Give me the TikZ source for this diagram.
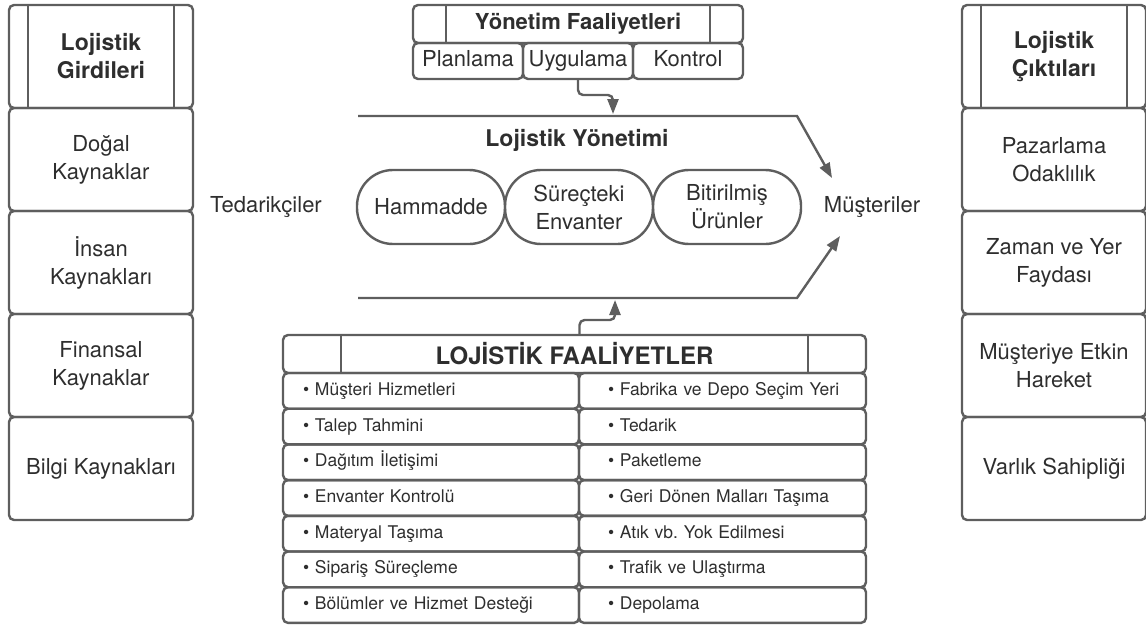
\documentclass[tikz,border=0pt]{standalone}
\usepackage{fontspec}
\setmainfont{TeX Gyre Heros}
\frenchspacing
\usetikzlibrary{positioning}
\usetikzlibrary{arrows.meta}
\definecolor{LineGray}{HTML}{5E5E5E}
\definecolor{TextDark}{HTML}{2E2E2E}
\newcommand{\colw}{184pt}
\newcommand{\rowh}{103pt}
\newcommand{\hdrinset}{19pt}
\newcommand{\itemh}{35.7pt}
\newcommand{\bigtext}{\fontsize{22}{28}\selectfont}
\newcommand{\smalltext}{\fontsize{17.5}{21}\selectfont}
\newcommand{\headtext}{\fontsize{23}{28}\selectfont\bfseries}

\begin{document}
\begin{tikzpicture}[x=1pt,y=-1pt,
    box/.style={draw=LineGray,line width=2.4pt,rounded corners=5pt,
      outer sep=0pt,inner sep=0pt,align=center,text=TextDark,font=\bigtext},
    colbox/.style={box,minimum width=\colw,minimum height=\rowh},
    subbox/.style={box,minimum width=110pt,minimum height=36pt,text height=16pt,text depth=5pt},
    pill/.style={box,rounded corners=36pt,minimum width=148pt,minimum height=74pt},
    item/.style={box,minimum height=\itemh,inner xsep=20pt,align=left,
      font=\smalltext,anchor=north west,text height=13pt,text depth=4pt},
    label/.style={text=TextDark,font=\bigtext},
    flow/.style={draw=LineGray,line width=2.4pt},
    arr/.style={flow,-{Triangle[length=15pt,width=11pt]}}]

    \useasboundingbox (0,0) rectangle (1146,626);

    % inputs column
    \node[colbox,font=\headtext] (inHdr) at (101,56.5) {Lojistik\\Girdileri};
    \node[colbox,below=0pt of inHdr] (in1) {Doğal\\Kaynaklar};
    \node[colbox,below=0pt of in1] (in2) {İnsan\\Kaynakları};
    \node[colbox,below=0pt of in2] (in3) {Finansal\\Kaynaklar};
    \node[colbox,below=0pt of in3] (in4) {Bilgi Kaynakları};
    \draw[flow] ([xshift=\hdrinset]inHdr.north west) -- ([xshift=\hdrinset]inHdr.south west);
    \draw[flow] ([xshift=-\hdrinset]inHdr.north east) -- ([xshift=-\hdrinset]inHdr.south east);

    % outputs column
    \node[colbox,font=\headtext] (outHdr) at (1054,56.5) {Lojistik\\Çıktıları};
    \node[colbox,below=0pt of outHdr] (out1) {Pazarlama\\Odaklılık};
    \node[colbox,below=0pt of out1] (out2) {Zaman ve Yer\\Faydası};
    \node[colbox,below=0pt of out2] (out3) {Müşteriye Etkin\\Hareket};
    \node[colbox,below=0pt of out3] (out4) {Varlık Sahipliği};
    \draw[flow] ([xshift=\hdrinset]outHdr.north west) -- ([xshift=\hdrinset]outHdr.south west);
    \draw[flow] ([xshift=-\hdrinset]outHdr.north east) -- ([xshift=-\hdrinset]outHdr.south east);

    % management activities
    \node[box,minimum width=330pt,minimum height=38pt,
      font=\fontsize{22}{26}\selectfont\bfseries] (mgmtHdr) at (578,24) {Yönetim Faaliyetleri};
    \draw[flow] ([xshift=33pt]mgmtHdr.north west) -- ([xshift=33pt]mgmtHdr.south west);
    \draw[flow] ([xshift=-33pt]mgmtHdr.north east) -- ([xshift=-33pt]mgmtHdr.south east);
    \node[subbox,anchor=north west] (plan) at (mgmtHdr.south west) {Planlama};
    \node[subbox,right=0pt of plan] (uyg) {Uygulama};
    \node[subbox,right=0pt of uyg] (ctrl) {Kontrol};

    % logistics management flow
    \coordinate (tl) at (358,116);
    \coordinate (tr) at (797,116);
    \coordinate (bl) at (358,298);
    \coordinate (br) at (797,298);
    \coordinate (topTip) at (832,178);
    \coordinate (botTip) at (840,236);
    \coordinate (topIn) at (613,114);
    \coordinate (botIn) at (615,300);
    \draw[arr] (tl) -- (tr) -- (topTip);
    \draw[arr] (bl) -- (br) -- (botTip);
    \node[label,font=\headtext] (mgmt) at (577,140) {Lojistik Yönetimi};
    \node[pill] (raw) at (431,207) {Hammadde};
    \node[pill,right=0pt of raw] (wip) {Süreçteki\\Envanter};
    \node[pill,right=0pt of wip] (done) {Bitirilmiş\\Ürünler};
    \node[label] (supp) at (266,207) {Tedarikçiler};
    \node[label] (cust) at (872,207) {Müşteriler};
    \draw[arr,rounded corners=5pt] (uyg.south) -- ++(0,16) -| (topIn);

    % logistics activities
    \node[box,minimum width=583pt,minimum height=38pt,
      font=\fontsize{24}{28}\selectfont\bfseries] (actHdr) at (574.5,354) {LOJİSTİK FAALİYETLER};
    \draw[flow] ([xshift=58pt]actHdr.north west) -- ([xshift=58pt]actHdr.south west);
    \draw[flow] ([xshift=-58pt]actHdr.north east) -- ([xshift=-58pt]actHdr.south east);
    \foreach \txt [count=\i] in {Müşteri Hizmetleri,Talep Tahmini,Dağıtım İletişimi,
      Envanter Kontrolü,Materyal Taşıma,Sipariş Süreçleme,Bölümler ve Hizmet Desteği}
      \node[item,text width=256pt] (actL\i) at ([yshift={-(\i-1)*\itemh}]actHdr.south west) {• \txt};
    \foreach \txt [count=\i] in {Fabrika ve Depo Seçim Yeri,Tedarik,Paketleme,
      Geri Dönen Malları Taşıma,Atık vb. Yok Edilmesi,Trafik ve Ulaştırma,Depolama}
      \node[item,text width=247pt] (actR\i) at ([xshift=296pt,yshift={-(\i-1)*\itemh}]actHdr.south west) {\hspace*{9pt}• \txt};
    \draw[arr,rounded corners=5pt] ([xshift=5pt]actHdr.north) -- ++(0,-15) -| (botIn);
\end{tikzpicture}
\end{document}
